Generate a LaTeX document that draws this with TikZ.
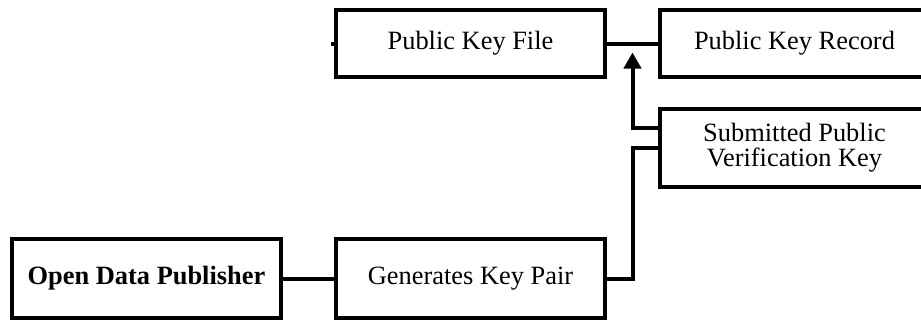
\documentclass[tikz,border=0pt]{standalone}
\usepackage{fontspec}
\setmainfont{Liberation Serif}
\usepackage{tikz}
\usetikzlibrary{arrows.meta, positioning, calc}

\begin{document}
\begin{tikzpicture}[
    auto,
    block/.style={
        rectangle,
        draw=black,
        line width=2pt,
        fill=white,
        minimum width=134.5pt,
        align=center,
        inner sep=2pt,
        font=\fontsize{13.2}{12.5}\selectfont
    },
    line/.style={
        draw,
        line width=2pt
    },
    arrowline/.style={
        draw,
        line width=2pt,
        -{Triangle[length=8pt, width=8.5pt]}
    }
]

\useasboundingbox (0,0) rectangle (460.5pt,-161.5pt);

% Nodes
\node [block, minimum height=39.5pt] (pub) at (73.25pt,-139.25pt) {\textbf{Open Data Publisher}};
\node [block, minimum height=39.5pt, right=25.5pt of pub] (gen) {Generates Key Pair};
\node [block, minimum height=33.5pt, above=79pt of gen] (pkf) {Public Key File};
\node [block, minimum height=33.5pt, right=25.5pt of pkf] (pkr) {Public Key Record};
\node [block, minimum height=39pt, below=14pt of pkr] (sub) {Submitted Public\\Verification Key};

% Helper points
\coordinate (mid) at ($(pkf.east)!0.5!(pkr.west)$);
\coordinate (stub) at ($(pkf.west)+(-1.5pt,0)$);
\coordinate (subout) at ($(sub.west)+(0,10pt)$);
\coordinate (tip) at ($(mid)+(0,-4.5pt)$);

% Edges
\path [line] (pub) -- (gen);
\path [line] (pkf) -- (pkr);
\path [line] (pkf.west) -- (stub);
\path [line] (gen.east) -| (mid |- sub.west) -- (sub.west);
\path [arrowline] (subout) -| (tip);

\end{tikzpicture}
\end{document}
